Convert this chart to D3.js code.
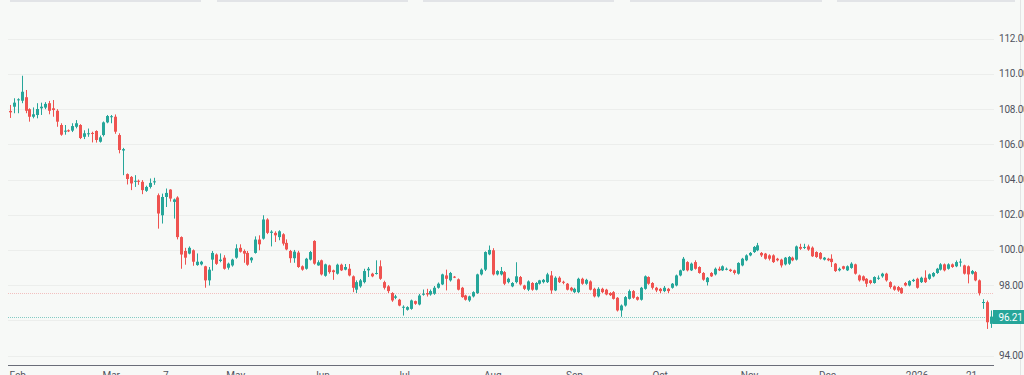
<!DOCTYPE html>
<html>
<head>
<meta charset="utf-8">
<script src="https://cdn.jsdelivr.net/npm/d3@7/dist/d3.min.js"></script>
<style>
  html, body { margin: 0; padding: 0; background: #f7f9f7; overflow: hidden; }
  svg { display: block; font-family: Roboto, "Liberation Sans", sans-serif; }
</style>
</head>
<body>
<svg id="chart" width="1024" height="375"></svg>
<script>
// daily candles (index 0 = first bar on the left)
const opens = [
  107.90,108.14,108.52,108.48,108.68,108.00,107.57,107.67,108.05,108.09,
  108.34,108.05,107.91,107.10,106.72,106.80,106.78,107.00,107.10,106.43,
  106.58,106.65,106.76,106.15,106.53,107.25,107.55,107.57,106.53,105.65,
  104.31,104.15,103.88,103.93,103.87,103.36,103.58,103.84,103.11,101.97,
  103.01,103.43,102.73,102.98,100.73,99.94,99.79,99.98,99.14,99.18,
  99.07,98.27,99.45,99.74,99.37,99.56,98.99,99.12,99.56,100.12,
  99.94,99.83,99.41,99.83,100.59,100.64,101.73,100.97,100.97,100.73,
  100.89,100.40,99.94,99.53,99.85,99.07,98.93,99.45,100.51,99.12,
  99.41,98.53,99.12,98.84,98.65,99.16,98.88,98.93,98.50,97.74,
  97.93,98.17,98.84,98.65,98.65,99.07,98.17,97.93,97.55,97.28,
  97.17,96.73,96.60,96.65,97.09,96.90,97.47,97.55,97.47,97.51,
  97.85,98.04,98.55,98.27,98.48,98.33,97.85,97.41,97.13,97.36,
  97.55,98.61,98.88,99.75,99.98,98.61,98.61,98.74,98.17,97.93,
  98.17,98.46,97.98,97.74,98.12,97.74,98.08,98.17,98.17,98.55,
  97.70,98.42,98.19,98.08,97.85,97.60,97.60,98.36,98.08,98.21,
  97.79,97.36,97.79,97.74,97.55,97.60,97.28,96.56,96.84,97.22,
  97.66,97.32,97.17,97.79,98.46,98.12,97.85,97.79,97.66,97.79,
  97.85,97.98,98.55,98.84,99.31,98.84,99.31,99.03,98.69,98.17,
  98.69,98.61,98.93,98.84,98.88,98.88,98.84,98.65,99.12,99.41,
  99.69,99.88,99.98,99.83,99.79,99.69,99.69,99.50,99.45,99.18,
  99.22,99.56,99.45,100.17,100.13,100.20,100.13,99.88,99.83,99.45,
  99.50,99.50,99.22,98.84,99.07,98.84,98.98,99.18,98.55,98.50,
  98.36,98.27,98.12,98.36,98.50,98.65,98.17,97.93,97.89,97.83,
  98.12,97.98,98.23,98.36,98.17,98.42,98.36,98.50,98.69,98.88,
  99.18,98.93,99.18,99.07,99.30,99.12,99.07,98.65,98.74,98.27,
  97.01,97.03,95.80
];
const highs = [
  108.24,108.62,108.62,109.90,109.09,108.05,108.10,108.34,108.37,108.40,
  108.47,108.52,108.00,107.20,107.10,106.85,107.20,107.38,107.15,106.80,
  106.90,106.72,106.80,106.50,107.30,107.67,107.67,107.70,106.63,105.80,
  104.35,104.20,104.25,104.00,103.97,103.65,104.06,104.10,103.21,103.20,
  103.49,103.45,102.92,103.05,100.77,100.12,100.20,100.03,99.80,99.38,
  99.10,99.03,99.94,99.80,99.80,99.70,99.28,99.50,100.32,100.32,
  100.03,99.94,99.60,100.77,100.83,101.97,101.80,101.12,101.06,101.12,
  100.95,100.60,100.00,100.00,99.95,99.12,99.55,99.94,100.55,99.41,
  99.45,99.22,99.16,98.88,99.22,99.22,99.20,99.20,98.55,98.27,
  98.35,98.93,99.03,98.70,99.41,99.41,98.25,98.00,97.60,97.45,
  97.22,96.85,96.80,97.18,97.12,97.50,97.75,97.79,97.75,97.95,
  98.15,98.65,98.88,98.75,98.52,98.38,97.90,97.45,97.40,97.65,
  98.65,98.95,99.92,100.25,100.10,98.85,99.03,98.80,98.42,98.17,
  99.30,98.52,98.02,98.27,98.17,98.17,98.30,98.35,98.70,98.80,
  98.50,98.50,98.25,98.12,97.90,97.85,98.42,98.42,98.36,98.27,
  97.85,97.88,97.85,97.79,97.60,97.66,97.32,96.90,97.38,97.75,
  97.72,97.36,97.90,98.55,98.50,98.17,97.90,97.84,97.95,97.84,
  98.12,98.60,98.88,99.60,99.36,99.28,99.41,99.07,98.74,98.46,
  98.74,99.00,99.05,99.12,99.00,98.93,98.88,99.30,99.55,99.75,
  99.88,100.22,100.40,99.88,99.83,99.75,99.75,99.55,99.50,99.60,
  99.65,99.62,100.25,100.35,100.35,100.30,100.20,99.92,99.88,99.60,
  99.55,99.75,99.26,99.00,99.10,99.12,99.30,99.22,98.60,98.55,
  98.40,98.30,98.50,98.55,98.70,98.70,98.22,97.98,97.95,97.88,
  98.18,98.28,98.36,98.42,98.48,98.84,98.66,98.74,98.98,99.25,
  99.23,99.24,99.23,99.40,99.50,99.16,99.12,98.86,98.80,98.32,
  97.20,97.12,96.56
];
const lows = [
  107.50,107.77,107.77,108.34,107.77,107.29,107.48,107.48,107.67,108.00,
  107.71,107.57,107.00,106.49,106.55,106.70,106.70,106.91,106.30,106.30,
  106.43,106.11,106.10,106.10,106.45,107.20,107.20,106.60,105.49,104.25,
  103.72,103.40,103.58,103.70,103.17,103.30,103.49,103.70,101.21,101.50,
  102.44,102.75,101.78,100.60,98.93,99.16,99.75,99.10,99.10,99.12,
  97.85,97.98,98.82,99.15,99.30,98.88,98.88,99.05,99.50,99.85,
  99.27,99.10,99.27,99.79,99.98,100.59,100.90,100.20,100.45,100.55,
  100.25,99.98,99.27,99.27,98.98,98.82,98.88,99.40,99.16,99.10,
  98.55,98.48,98.65,98.30,98.60,98.80,98.84,98.50,97.60,97.55,
  97.85,98.10,98.46,98.45,98.60,98.30,97.75,97.55,97.05,97.20,
  96.80,96.27,96.55,96.60,96.88,96.85,97.40,97.35,97.40,97.45,
  97.80,98.00,97.70,98.20,98.40,97.70,97.28,97.12,97.05,97.30,
  97.50,98.55,98.80,99.70,98.55,98.55,98.55,98.00,98.10,97.88,
  98.10,97.98,97.72,97.66,97.68,97.70,98.03,98.10,98.12,97.51,
  97.66,98.12,98.05,97.70,97.64,97.55,97.55,98.02,98.02,97.70,
  97.30,97.30,97.55,97.42,97.38,97.18,96.50,96.20,96.78,97.18,
  97.22,97.12,97.12,97.74,98.02,97.75,97.60,97.55,97.60,97.55,
  97.80,97.93,98.50,98.80,98.78,98.80,98.88,98.65,98.25,97.98,
  98.46,98.55,98.80,98.80,98.84,98.75,98.60,98.60,99.07,99.36,
  99.64,99.83,99.93,99.60,99.45,99.40,99.26,99.35,99.00,99.12,
  99.15,99.36,99.40,100.00,100.05,99.95,99.60,99.55,99.45,99.40,
  99.36,99.03,98.75,98.78,98.88,98.80,98.93,98.60,98.20,98.22,
  97.90,98.05,98.08,98.30,98.42,98.20,97.80,97.68,97.62,97.50,
  97.93,97.93,98.18,97.80,98.12,98.12,98.30,98.45,98.64,98.83,
  98.78,98.88,98.98,99.02,99.05,98.60,98.10,98.60,98.22,97.41,
  96.65,95.51,95.57
];
const closes = [
  107.82,108.37,108.56,108.99,107.91,107.57,107.71,108.01,108.14,108.30,
  107.91,107.95,107.29,106.55,106.78,106.74,107.04,107.20,106.36,106.63,
  106.63,106.60,106.25,106.40,107.25,107.61,107.60,106.72,105.68,105.73,
  104.03,103.78,103.93,103.90,103.40,103.58,103.81,103.90,102.07,103.01,
  103.24,102.92,102.87,100.73,99.74,99.56,100.12,99.33,99.33,99.33,
  98.27,98.88,99.83,99.21,99.45,98.93,99.22,99.45,100.09,99.90,
  99.79,99.16,99.56,100.59,100.32,101.73,100.97,101.04,100.83,101.06,
  100.36,100.03,99.53,99.90,99.03,98.88,99.50,99.88,99.22,99.30,
  98.61,99.18,98.74,98.74,99.16,98.84,99.03,98.55,97.85,98.17,
  98.27,98.80,98.93,98.50,98.69,98.36,97.85,97.66,97.13,97.36,
  96.84,96.77,96.75,97.13,96.94,97.41,97.51,97.47,97.66,97.85,
  98.08,98.61,98.36,98.69,98.44,97.74,97.32,97.17,97.36,97.60,
  98.61,98.88,99.88,100.00,98.61,98.80,98.80,98.08,98.36,98.12,
  98.50,98.04,97.79,98.21,97.74,98.12,98.27,98.30,98.61,97.70,
  98.42,98.17,98.15,97.74,97.70,97.79,98.36,98.08,98.30,97.74,
  97.36,97.79,97.60,97.47,97.43,97.22,96.56,96.84,97.32,97.66,
  97.28,97.17,97.85,98.50,98.08,97.85,97.70,97.66,97.85,97.66,
  98.08,98.55,98.84,99.50,98.84,99.22,98.93,98.69,98.31,98.42,
  98.50,98.93,98.84,99.07,98.93,98.80,98.69,99.26,99.50,99.69,
  99.83,100.17,100.26,99.69,99.50,99.50,99.31,99.41,99.12,99.56,
  99.60,99.41,100.20,100.07,100.17,100.02,99.64,99.60,99.50,99.56,
  99.41,99.31,98.80,98.93,98.93,99.07,99.22,98.65,98.27,98.27,
  98.08,98.12,98.46,98.42,98.65,98.27,97.89,97.74,97.70,97.55,
  97.98,98.23,98.30,97.85,98.42,98.17,98.61,98.69,98.93,99.18,
  98.84,99.18,99.03,99.31,99.34,98.65,98.61,98.80,98.27,97.55,
  97.04,95.89,96.21
];

// axis labels
const priceTicks = [94, 96, 98, 100, 102, 104, 106, 108, 110, 112];
const timeTickIndex = [2, 26, 40, 58, 80, 101, 124, 145, 167, 190, 210, 233, 247];
const timeTickLabel = ["Feb", "Mar", "7", "May", "Jun", "Jul", "Aug", "Sep", "Oct", "Nov", "Dec", "2026", "21"];

// horizontal level lines
const lastPrice = closes[closes.length - 1];
const refLevel = 97.54;

const upColor = "#26a69a", downColor = "#ef5350";
const width = 1024, height = 375;
const plotLeft = 8, plotRight = 994, axisY = 365;
const labelFont = 10;

const svg = d3.select("#chart");

const x = d3.scaleLinear()
  .domain([0, closes.length - 1])
  .range([10, 991]);

const y = d3.scaleLinear()
  .domain([94, 112])
  .range([355.5, 38.8]);

// top toolbar strips
svg.append("g").selectAll("rect")
  .data([[10, 201], [217, 408], [423, 614], [630, 822], [837, 1015]])
  .enter().append("rect")
    .attr("x", d => d[0]).attr("y", 0)
    .attr("width", d => d[1] - d[0]).attr("height", 2)
    .attr("fill", "#e2e4e7");

// grid
svg.append("g").selectAll("line")
  .data(priceTicks)
  .enter().append("line")
    .attr("x1", plotLeft).attr("x2", plotRight)
    .attr("y1", d => Math.round(y(d)) + 0.5).attr("y2", d => Math.round(y(d)) + 0.5)
    .attr("stroke", "#eceeec");

// right border
svg.append("line")
  .attr("x1", 1020.5).attr("x2", 1020.5).attr("y1", 0).attr("y2", height)
  .attr("stroke", "#e3e4e4");

// reference level (pink dotted)
svg.append("line")
  .attr("x1", plotLeft).attr("x2", plotRight)
  .attr("y1", Math.round(y(refLevel)) + 0.5).attr("y2", Math.round(y(refLevel)) + 0.5)
  .attr("stroke", "#f0a8a6").attr("stroke-opacity", 0.7)
  .attr("stroke-dasharray", "1,1");

// last price (teal dotted)
svg.append("line")
  .attr("x1", plotLeft).attr("x2", plotRight)
  .attr("y1", Math.round(y(lastPrice)) + 0.5).attr("y2", Math.round(y(lastPrice)) + 0.5)
  .attr("stroke", upColor).attr("stroke-opacity", 0.55)
  .attr("stroke-dasharray", "1,1");

// candles
const idx = d3.range(closes.length);
const colorOf = i => closes[i] >= opens[i] ? upColor : downColor;

const candles = svg.append("g");

candles.selectAll("line")
  .data(idx)
  .enter().append("line")
    .attr("x1", i => Math.round(x(i)) + 0.5)
    .attr("x2", i => Math.round(x(i)) + 0.5)
    .attr("y1", i => y(highs[i]))
    .attr("y2", i => y(lows[i]))
    .attr("stroke", colorOf);

candles.selectAll("rect")
  .data(idx)
  .enter().append("rect")
    .attr("x", i => Math.round(x(i)) - 1)
    .attr("width", 3)
    .attr("y", i => y(Math.max(opens[i], closes[i])))
    .attr("height", i => Math.max(1, Math.abs(y(opens[i]) - y(closes[i]))))
    .attr("fill", colorOf);

// price axis labels
svg.append("g").selectAll("text")
  .data(priceTicks)
  .enter().append("text")
    .attr("x", 999)
    .attr("y", d => y(d))
    .attr("dy", "0.35em")
    .attr("font-size", labelFont)
    .attr("letter-spacing", "-0.2px")
    .attr("fill", "#50535e")
    .text(d => d.toFixed(2));

// last price tag
const tagY = Math.round(y(lastPrice));
svg.append("rect")
  .attr("x", 993).attr("y", tagY - 7)
  .attr("width", 31).attr("height", 14)
  .attr("fill", upColor);
svg.append("text")
  .attr("x", 998.5).attr("y", tagY)
  .attr("dy", "0.35em")
  .attr("font-size", labelFont)
  .attr("letter-spacing", "-0.2px")
  .attr("fill", "#ffffff")
  .text(lastPrice.toFixed(2));

// time axis
svg.append("line")
  .attr("x1", plotLeft).attr("x2", plotRight)
  .attr("y1", axisY + 0.5).attr("y2", axisY + 0.5)
  .attr("stroke", "#6a6d78");

svg.append("g").selectAll("text")
  .data(timeTickIndex)
  .enter().append("text")
    .attr("x", i => x(i))
    .attr("y", 379)
    .attr("text-anchor", "middle")
    .attr("font-size", labelFont)
    .attr("fill", "#50535e")
    .text((d, k) => timeTickLabel[k]);
</script>
</body>
</html>
